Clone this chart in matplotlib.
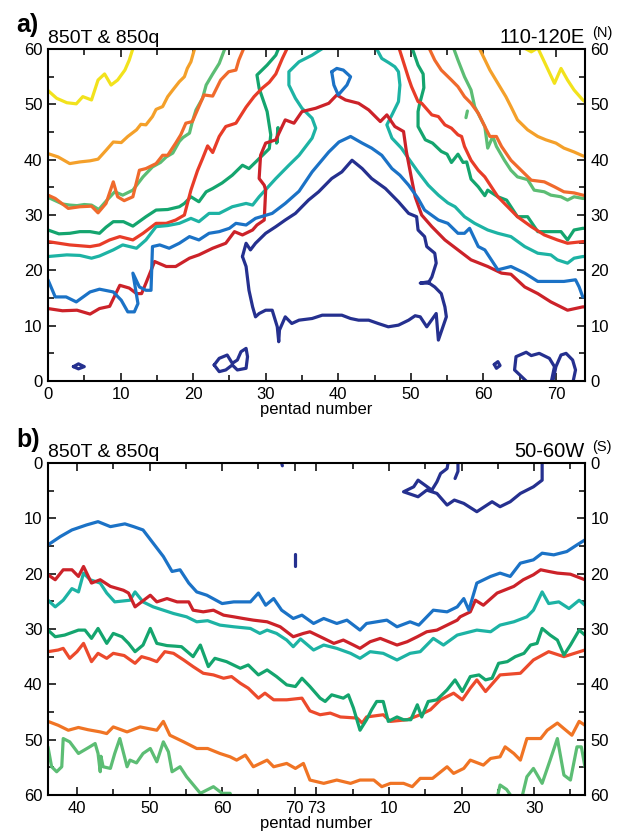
import numpy as np
import matplotlib
matplotlib.use('Agg')
import matplotlib.pyplot as plt
from matplotlib.ticker import MultipleLocator, FixedLocator

plt.rcParams['font.family'] = ['Liberation Sans', 'DejaVu Sans']

# ---- panel a : 110-120E, x = pentad number, y = latitude (N)
a_yellow_l_p = [0, 1.2, 2.6, 3.9, 4.8, 6, 6.9, 7.8, 8.7, 9.6, 10.6, 11.2, 11.8]
a_yellow_l_y = [52.5, 51.1, 50.3, 50.1, 51.4, 50.8, 54.4, 55.5, 53.5, 54.4, 56.2, 58, 60.5]
a_yellow_r_p = [65.2, 66.6, 67.5, 68.4, 69.8, 70.7, 71.6, 72.5, 73.7, 74]
a_yellow_r_y = [60.5, 59.5, 60.2, 57.7, 53.8, 56.5, 54.4, 52.6, 50.8, 50.5]

a_orange_l_p = [0, 1.4, 3, 4.4, 5.8, 6.9, 8, 9, 10.1, 11, 12.2, 12.8, 13.5, 14.4, 14.9, 15.8,
                16.5, 17.2, 18.1, 18.8, 19.2, 19.7, 20.3]
a_orange_l_y = [41.1, 40.5, 39.3, 39.6, 39.8, 40.1, 41.7, 43.2, 43.1, 44.2, 45.4, 46.4, 46.3, 47.8,
                49.1, 49.6, 51.4, 52.6, 54.1, 55, 56.5, 57.7, 60.5]
a_orange_r_p = [59.3, 59.9, 60.9, 62, 63.1, 63.8, 64.7, 66.1, 67.5, 68.6, 70, 71.1, 72.5, 73.7, 74]
a_orange_r_y = [60.5, 58.9, 56.2, 53.8, 51.4, 49.6, 47.2, 45.4, 44.2, 43.6, 43, 42.1, 41.4, 40.7, 40.6]

a_orred_l_p = [0, 1, 2, 2.8, 4.4, 6, 6.9, 8, 9, 9.6, 10.5, 11.7, 12.6, 13.5, 14.9, 15.8, 16.5,
               17.6, 18.3, 19, 19.9, 20.8, 21.5, 22.7, 23.8, 24.9, 25.9, 26.3, 27.1]
a_orred_l_y = [33.6, 33, 32, 31.2, 31.5, 31.6, 30.4, 32.1, 36, 33.3, 32.6, 33.3, 38.1, 38.4, 39.3,
               40.8, 40.8, 43, 44.5, 46.6, 46.9, 49.6, 51.7, 51.5, 54.4, 55.9, 56.2, 58, 60.5]
a_orred_r_p = [52.4, 53.3, 54.2, 55.6, 56.5, 57.4, 58.3, 59.3, 60.2, 60.9, 61.8, 62.5, 63.8, 65.2,
               66.6, 68.4, 69.8, 71.1, 72.5, 73.7, 74]
a_orred_r_y = [60.5, 58, 56.2, 54.4, 53.2, 51.4, 50.2, 48.4, 46, 44.2, 44.2, 42.4, 39.9, 38.1,
               36.3, 36, 35.1, 34.2, 34, 33.6, 33.5]

a_lgreen_l_p = [0, 1, 2, 3, 4, 5, 6, 7, 8, 9.2, 10.3, 11.7, 13.1, 14.4, 15.5, 16.3, 17.2, 18.1,
                18.6, 19.5, 19.9, 20.4, 21.3, 21.8, 22.7, 23.6, 24.5]
a_lgreen_l_y = [33.2, 32.6, 32, 31.8, 31.7, 31.9, 31.8, 31, 32.5, 34.2, 33.6, 34.5, 36.9, 38.7,
                39.5, 40.5, 41.2, 43.3, 44, 44.8, 46.9, 49, 51.1, 53.5, 55.5, 57.4, 60.5]
a_lgreen_r_p = [55.8, 56.5, 57.4, 58.3, 58.8, 59.5, 60.2, 60.6, 61.3, 61.8, 62.9, 63.8, 64.7, 66.1,
                67, 68.4, 69.3, 70.7, 71.6, 72.5, 73.7, 74]
a_lgreen_r_y = [60.5, 58, 55, 52.6, 49.6, 47.8, 46, 42.1, 44.2, 42.4, 39.9, 38.1, 36.9, 36.4,
                34.5, 34.2, 33.6, 33.3, 32.7, 33.3, 33, 33]
a_lgreen_bit_p = [57.6, 57.8]
a_lgreen_bit_y = [47.6, 48.8]

a_dgreen_l_p = [0, 1.5, 3, 4.4, 5.8, 7.1, 8, 9, 10.4, 11.7, 13.5, 14.9, 16.5, 18.1, 18.8, 19.7,
                20.8, 21.8, 22.7, 24, 25.4, 26.8, 27.7, 29.1, 30.5, 30.7, 30.2, 29.1, 28.8, 30.2,
                31.4, 31.9]
a_dgreen_l_y = [27.3, 26.6, 26.7, 27, 27, 26.7, 27.8, 28.8, 28.8, 28, 29.7, 30.9, 31, 31.5, 32.1,
                33.3, 32.4, 34.2, 34.8, 35.8, 37.2, 39, 38.4, 40.2, 42, 44.5, 48.7, 52.9, 55.3,
                57.1, 58.9, 60.5]
a_dgreen_r_p = [50.1, 51, 51.7, 51.8, 51.2, 51, 51, 52, 53, 54.2, 55, 55.6, 56.5, 57.2, 57.7, 58.3,
                59.3, 60.2, 60.6, 62, 63.2, 64.7, 66.1, 67.5, 69, 70.7, 71.6, 72.5, 73.7, 74]
a_dgreen_r_y = [60.5, 57.1, 55.5, 53, 50, 48.7, 46, 43.6, 43, 41.5, 41, 39.5, 41, 39.5, 39.6,
                36.5, 35.1, 33.5, 34.5, 33.3, 32.7, 29.7, 29.7, 27, 27, 27, 25.5, 27.3, 27.6, 27.6]
a_dgreen_bit_p = [31.5, 31.7, 31.6]
a_dgreen_bit_y = [43, 45.8, 43.2]

a_red_l_p = [0, 2, 3, 5.8, 7.1, 8.5, 9.9, 11.7, 13.1, 14.9, 16.3, 17.6, 18.8, 19.7, 20.6, 21.3,
             22, 22.7, 23.6, 24.5, 25.9, 27.3, 28.4, 29.5, 30.5, 31.4, 32.3, 33.1]
a_red_l_y = [25.2, 24.8, 24.6, 24.3, 24.6, 25.5, 26.1, 25.5, 26.7, 28.5, 28.5, 29.1, 30, 34.5,
             38, 40.2, 42.5, 41.3, 44.2, 46, 46.6, 49.5, 51.4, 52.9, 54, 55.5, 58.3, 60.5]
a_red_r_p = [48.3, 49.7, 50.1, 51, 51.5, 52.9, 53.8, 54.7, 55.6, 56.5, 57, 57.4, 58.3, 59.3, 60.2,
             61.1, 62, 62.9, 64.7, 66.6, 68.4, 70.2, 71.6, 73.7, 74]
a_red_r_y = [60.5, 54.7, 53.2, 50.5, 50.2, 48.1, 47.8, 46.3, 45.7, 44.5, 44.2, 42.4, 39.9, 38.1,
             36.9, 35.1, 33.3, 32.1, 29.7, 27.9, 26.4, 25.5, 24.9, 25.2, 25.2]

a_teal_l_p = [0, 2.6, 4.4, 6, 7.1, 9, 10.3, 12.2, 13.5, 14.9, 16.5, 18.1, 19.7, 20.8, 22.2, 23.6,
              25.4, 27.3, 28.2, 29.1, 31.4, 33.2, 34.6, 36.4, 36.9, 36.4, 35, 34.1, 33.2, 33.2,
              34.6, 36.4, 38.3]
a_teal_l_y = [22.5, 22.8, 22.7, 22.2, 22.6, 23.7, 24.6, 24, 25.5, 27.9, 28.1, 28.5, 29.4, 28.8,
              30.3, 30.3, 31.5, 32.1, 31.8, 33.3, 36.6, 39, 40.8, 43.9, 45.7, 47.5, 49.3, 51.1,
              53.5, 55.9, 57.7, 58.9, 60.5]
a_teal_r_p = [45.1, 46, 47, 47.8, 48.3, 48.5, 48.3, 47.4, 46.7, 47.4, 48.7, 49.7, 51, 52.4, 53.8,
              55.1, 56.1, 57.4, 58.8, 60.6, 62, 63.8, 65.7, 67.5, 69.3, 70.2, 71.6, 72.5, 73.7, 74]
a_teal_r_y = [60.5, 58.3, 57.5, 56.8, 55.9, 53.5, 50.5, 48.1, 46.3, 43.9, 42.1, 40.2, 37.8, 35.4,
              33.6, 32.2, 31.5, 29.7, 28.5, 27.3, 26.7, 26.1, 24.3, 23.1, 22.8, 21.9, 21.3, 22.2,
              22.5, 22.5]

a_crimson_p = [0, 2, 4, 5.8, 7.1, 8.5, 9.9, 11.2, 12.2, 12.9, 13.5, 14.7, 16.3, 17.6, 19.5, 20.8,
               22.7, 24.5, 25.7, 26.8, 28.2, 28.8, 29.8, 30, 29.8, 29.1, 29.3, 30, 31.4, 32.7,
               33.9, 35, 36.9, 38.7, 39.8, 41, 42.8, 44.2, 45.8, 46.7, 47.8, 49, 49.4, 50.1,
               50.6, 51.5, 52.9, 54.7, 56.5, 58.3, 60.6, 62.5, 63.8, 65.7, 67.5, 69.3, 71.6,
               73.7, 74]
a_crimson_y = [13.1, 12.7, 12.8, 12.1, 13.1, 13.5, 17.3, 16.8, 15.8, 15.8, 17.7, 21.6, 20.7, 20.7,
               22.2, 22.8, 24, 24.9, 27, 26.4, 27.3, 28.2, 29.1, 34.5, 35.4, 36.6, 40.8, 43, 43.6,
               47.2, 46.6, 48.7, 49.3, 50.2, 51.7, 50.8, 50.2, 49, 46.9, 48.1, 46, 45.1, 41.4,
               36.6, 33.3, 30, 27.9, 25.5, 23.7, 21.9, 20.7, 19.5, 19.3, 17, 15.8, 14.3, 12.8,
               13.4, 13.4]

a_blue_p = [0, 1, 2.5, 3.9, 5.8, 7.1, 9, 10.1, 11, 11.9, 12.4, 11.7, 12.6, 13.5, 14.2, 14.4, 15.4,
            16.7, 18.1, 19.5, 20.8, 22.2, 23.6, 25, 25.9, 27.3, 28.6, 30.9, 32.7, 34.6, 36.4,
            38.7, 40.1, 41.7, 43.3, 44.6, 46, 47.4, 48.5, 49.7, 51, 51.9, 53.8, 55.1, 56.5, 57.4,
            58.1, 59.3, 60.2, 62, 63.8, 65.7, 67.5, 69.3, 71.1, 72.7, 73.2, 73.7, 74]
a_blue_y = [18.3, 15.2, 15.2, 14.3, 16.1, 16.6, 16.1, 14.6, 12.5, 12.5, 14, 19.5, 17, 16.4, 16.4,
            24.3, 24.6, 24, 24.9, 26.1, 25.5, 26.7, 27, 27.6, 28.5, 28.2, 29.4, 30.3, 32.1, 34.3,
            37.8, 41.4, 43.2, 44.2, 43, 42.1, 40.8, 38.4, 37.2, 35.4, 33, 30.9, 29.1, 28.5, 26.7,
            26.7, 27.6, 24.3, 23.7, 20.1, 20.7, 19.5, 18, 18, 18, 18.3, 17, 15.2, 15.2]
a_blue_loop_p = [39.1, 39.8, 40.7, 41.7, 41.2, 40, 39.4, 39.1]
a_blue_loop_y = [55.9, 56.5, 56.2, 55, 53.5, 51.7, 53.5, 55.9]

a_navy_p = [26.8, 27.3, 27.9, 28.6, 30, 31.4, 32.7, 34.1, 35.9, 37.3, 39.1, 40.5, 41.9, 43.3, 44.6,
            46.5, 48.3, 49.7, 50.8, 51, 51.9, 52.2, 53.3, 53.5, 52.9, 52.4, 51.3, 52.3, 53.3, 54.2,
            54.7, 54.9, 53.8, 53.5, 52.2, 51.3, 50.6, 49.7, 48.3, 46.9, 45.5, 44.2, 42.8, 41.7,
            40.5, 39.1, 37.8, 36.4, 34.6, 33.6, 32.7, 31.9, 31.8, 31.6, 30.9, 30, 29.1, 28.6,
            28.2, 27.7, 27.3, 26.8]
a_navy_y = [22.5, 24.9, 23.7, 24.9, 26.7, 27.9, 29.1, 30.3, 32.7, 34.2, 36.6, 37.8, 39.9, 38.4,
            36.6, 34.8, 32.4, 30.3, 29.7, 27.3, 26.1, 24.3, 23.1, 21.3, 18.8, 17.7, 17.7, 17.9, 17,
            15.8, 13.4, 11.6, 7.4, 12.2, 9.8, 11.6, 11.8, 11, 10.1, 9.8, 10.4, 11, 11, 11.3, 11.9,
            11.9, 11.9, 11.3, 11, 10.4, 11.6, 9.2, 7.1, 9.8, 12.8, 12.8, 12.2, 11.6, 13.4, 16.4,
            20.7, 22.5]
a_navy_s1_p = [3.5, 4.2, 5, 4.2, 3.5]
a_navy_s1_y = [2.6, 3.1, 2.6, 2.2, 2.6]
a_navy_s2_p = [22.9, 23.6, 24.7, 25.4, 26.1, 26.6, 27.3, 27.5, 27.3, 26.1, 25.4, 24.5, 23.6, 22.9]
a_navy_s2_y = [2.9, 4.1, 4.7, 3.2, 3.8, 5.3, 5.9, 4.4, 2.3, 2, 2.9, 2, 1.7, 2.9]
a_navy_s3_p = [61.5, 62, 62.3, 61.8, 61.5]
a_navy_s3_y = [3, 3.5, 2.8, 2.3, 3]
a_navy_s4_p = [66.3, 64.3, 64.5, 65.9, 66.6, 67.7, 69.1, 69.8, 69.3]
a_navy_s4_y = [-0.5, 2, 4.4, 5.2, 4.6, 5, 4.1, 2.6, -0.5]
a_navy_s5_p = [69.5, 70, 70.7, 71.4, 72.3, 72.7, 72.3]
a_navy_s5_y = [-0.5, 2.6, 4.7, 5, 3.8, 2, -0.5]

# ---- panel b : 50-60W, x = pentad 36..73 then 1..37 (positions > 73 are pentad - 73 of next year)
b_ticks = [40, 50, 60, 70, 73, 83, 93, 103]
b_ticklabels = ['40', '50', '60', '70', '73', '10', '20', '30']
b_minor = [45, 55, 65, 78, 88, 98, 108]

b_blue_x = [36, 37.7, 39.3, 41.3, 42.9, 44.6, 46.6, 47.8, 49.1, 50.5, 51.9, 53.1, 54.2, 55.4,
            56.5, 57.9, 60, 61.6, 63.9, 65, 66, 67.1, 68.2, 69.8, 71, 72.6, 74, 75.8, 77.2, 79,
            79.9, 82.7, 84.1, 85.9, 87.1, 89.1, 91, 92.4, 93.3, 94, 95.1, 97, 98.3, 99.7, 101.1,
            102.9, 104.1, 105.7, 107.5, 108.9, 110]
b_blue_y = [14.8, 13.3, 12.1, 11.2, 10.6, 11.5, 11, 11.5, 12.1, 14.5, 16.9, 19.6, 19.3, 21.7,
            23.3, 23.9, 25.4, 25.1, 25.1, 23.5, 25.7, 24.5, 26.6, 28.1, 27.5, 29, 28.1, 29, 28.4,
            30.2, 29, 28.4, 29.6, 28.7, 29.3, 26.6, 26.9, 26, 24.5, 26.6, 21.7, 20.5, 19.9, 20.5,
            18.1, 17.5, 16.3, 16.6, 16, 14.8, 13.9]

b_red_x = [36, 37, 38.1, 39.3, 40.2, 40.9, 42, 43.2, 44.6, 46.4, 47.1, 48, 50.1, 51, 52.4, 53.8,
           55.4, 56, 57.4, 58.8, 60.2, 61.6, 62.9, 64.3, 66.2, 68, 69.8, 71.2, 72.1, 74, 75.4,
           76.7, 78.1, 79, 80.4, 81.8, 84.1, 85.5, 86.9, 88.2, 89.6, 91, 92.4, 92.8, 94.2, 94.9,
           96, 97.9, 100.2, 101.5, 102.9, 103.9, 105, 106.2, 108, 110]
b_red_y = [20.2, 21.1, 19.3, 19.3, 20.5, 18.7, 21.7, 21.1, 22.3, 23, 23.5, 26, 23.9, 25.1, 24.5,
           25.1, 25.1, 26.6, 26.9, 26.6, 27.5, 27.8, 28.1, 28.4, 28.7, 29.6, 31.4, 30.8, 30.5,
           31.7, 32.6, 32, 32.9, 33.5, 32.3, 31.7, 32.9, 32.3, 31.4, 30.5, 30.2, 29.3, 28.4, 27.8,
           26.9, 24.8, 25.7, 23.5, 22.3, 21.1, 20.2, 19.3, 19.6, 19.9, 20.1, 21.1]

b_teal_x = [36, 37, 38.1, 39.3, 40.2, 40.9, 41.8, 43.2, 44.1, 45.2, 47.3, 48, 49.1, 50.5, 51.9,
            53.3, 55.1, 56.5, 58, 59.7, 61.6, 63.9, 65.2, 66.2, 67.5, 68.9, 69.8, 70.8, 72.6,
            74, 75.8, 77.7, 79, 80.4, 82.2, 84.1, 85.9, 87.3, 89.1, 90.5, 92.4, 95.1, 97, 98.3,
            100.2, 102, 102.9, 104.1, 105, 106.4, 107.8, 109.2, 110]
b_teal_y = [24.8, 26, 24.8, 22.7, 23.3, 19.9, 21.1, 21.7, 23.5, 25.1, 24.8, 23.3, 25.1, 26, 26.6,
            27.2, 27.8, 28.7, 28.5, 29.3, 29.6, 29.9, 30.8, 30.2, 30.8, 32, 33.2, 31.8, 33.8,
            32.9, 33.5, 34.4, 35.3, 34.1, 34.4, 35.6, 34.4, 34.1, 31.7, 32.9, 31.1, 30.2, 30.5,
            29.3, 28.7, 27.8, 26.6, 23.3, 25.4, 25.1, 26.3, 24.8, 25.7]

b_dgreen_x = [36, 37, 38.3, 40.2, 41.1, 42, 42.9, 44.1, 45, 46.2, 47.1, 48, 49.1, 50.1, 51, 52.4,
              53.5, 54.4, 56, 57, 58.1, 59, 60.6, 62.5, 63.6, 65, 66.2, 67.5, 68.9, 70.1, 71,
              72.1, 73.5, 74.2, 75.1, 76.7, 77.4, 78.1, 79, 79.9, 80.6, 81.3, 82.2, 82.9, 84.1,
              85, 86, 86.9, 87.5, 88.4, 89.6, 91, 92.1, 93.1, 94.2, 95.4, 96.3, 97.2, 98.1, 99.3,
              100.4, 101.6, 102.5, 103.4, 104.1, 105.2, 106.2, 107.1, 108, 109.2, 110]
b_dgreen_y = [30.2, 31.4, 31.1, 30.2, 30.2, 31.7, 29.9, 32.6, 30.8, 31.4, 32.6, 34.1, 32.9, 29.9,
              32.6, 33, 33.1, 33.2, 35, 32.9, 36.8, 35.3, 35.9, 37.1, 36.5, 38.3, 37.4, 38.6,
              40.1, 40.4, 38.9, 40.4, 42.5, 43.1, 41.9, 42.5, 41.9, 44.3, 48.3, 46.4, 44.6, 43.1,
              43.1, 46.7, 45.9, 46.4, 46.4, 43.7, 45.9, 43.1, 42.8, 41, 39.2, 41.3, 38.6, 38.3,
              39.2, 38.9, 36.2, 35.9, 35, 34.4, 32.9, 32.6, 29.9, 31.1, 32, 34.7, 32.9, 30.2, 31.1]

b_orred_x = [36, 37.4, 38.1, 39, 40, 40.9, 42, 42.9, 44.1, 45, 46.5, 48, 48.9, 50, 51, 52.1,
             53.3, 54.7, 56, 57.4, 58.8, 60.2, 61.3, 62.5, 63.6, 65, 65.9, 67.1, 68.9, 71, 72.1,
             73.5, 74.9, 76.3, 78.6, 79.3, 79.9, 82.2, 83.2, 85.5, 87.3, 88.7, 90.1, 91.9, 93.1,
             94.2, 95.1, 96.3, 98.3, 101.1, 102.9, 105, 107.1, 110]
b_orred_y = [34.1, 33.8, 33.5, 35.3, 34.1, 32.6, 35.9, 34.4, 35.3, 34.4, 34.8, 36.2, 35, 35.4,
             35.9, 34.1, 34.4, 35.6, 36.8, 38, 38.3, 38.9, 38.6, 39.8, 40.7, 42.5, 41.6, 42.8,
             42.8, 42.5, 44.8, 45.5, 45.2, 45.9, 46.1, 47, 45.9, 45.5, 46.7, 46.4, 45.5, 44.6,
             42.8, 41.6, 42.8, 40.7, 39.2, 41.3, 38.3, 38, 35.6, 34.1, 35, 33.8]

b_orange_x = [36, 37.4, 38.8, 40.2, 41.5, 43.2, 44.1, 45, 46.9, 48.7, 51, 51.9, 52.8, 54.7, 55.6,
              56.5, 58, 59.7, 61.1, 62, 63.2, 64.3, 66.2, 67.1, 68.9, 70.1, 71.2, 72.1, 74, 75.8,
              77.7, 79, 80.9, 82, 83.2, 85, 86.2, 87.3, 89, 91, 91.9, 93.3, 94.2, 96, 97, 98.3,
              99, 100.2, 101.1, 102, 103.9, 104.8, 106.2, 107.1, 108.2, 109.2, 110]
b_orange_y = [46.7, 47.4, 48.3, 47.8, 48.2, 48.6, 48.9, 47.7, 48.6, 47.7, 48.3, 46.7, 49.2, 50.4,
              51, 51.6, 51.6, 52.5, 53.1, 53.7, 52.8, 54.9, 53.7, 54.9, 54.3, 55.2, 54.3, 57.3,
              57.9, 57.3, 57.9, 57.3, 57.3, 58.5, 57.9, 57.9, 58.5, 57, 57, 54.9, 56.1, 55.2,
              53.7, 54.6, 53.4, 53.1, 51.3, 52.5, 53.7, 49.8, 49.8, 48.3, 47, 48, 49.2, 46.7, 47.4]

b_lgreen_l_x = [36, 36.5, 37.2, 37.9, 38.1, 39, 40.2, 41.5, 42.5, 42.9, 43.2, 43.3, 43.6, 44.6,
                45.2, 45.9, 46.9, 47.3, 48.2, 49.1, 50.1, 51, 51.9, 52.6, 53.1, 54.2, 55.1, 57,
                58.8, 60, 61.1, 61.3]
b_lgreen_l_y = [51.3, 54.9, 55.8, 54.9, 49.8, 50.4, 52.5, 51.5, 50.7, 52.5, 55.8, 53, 54.9, 55.2,
                52.5, 49.8, 54.9, 53.7, 54.2, 52.5, 51.6, 54, 50.4, 52.2, 55.8, 54.9, 56.7, 59.7,
                58.5, 59.7, 59.7, 60.5]
b_lgreen_r_x = [97.9, 98.3, 99.2, 100, 101.3, 102, 102.9, 104.1, 105.2, 106.2, 107.1, 108, 108.9,
                109.5, 110]
b_lgreen_r_y = [60.5, 58.2, 59, 60.5, 60.5, 56.7, 55.2, 57.9, 53.7, 49.8, 56.4, 57.3, 51.3, 51.3,
                54.9]

b_navy_x = [91.2, 91, 90.1, 89.6, 88.9, 87, 86.4, 85, 87, 88.2, 89.6, 91, 92, 93.3, 95.1, 97.2,
            98.3, 99.7, 101.1, 102.9, 104.1, 104.1]
b_navy_y = [-0.5, 1, 1.9, 3.4, 4.9, 3.1, 4.3, 5.2, 6.1, 4.9, 5.5, 7.6, 6.7, 7.3, 8.8, 7, 7.9, 7,
            5.5, 4.3, 3.1, -0.5]
b_navy_hook_x = [92.5, 92.5, 92.1]
b_navy_hook_y = [-0.5, 1.5, 2.8]
b_navy_dash_x = [70.1, 70.1]
b_navy_dash_y = [16.5, 18.6]
b_navy_dot_x = [68.1, 68.3]
b_navy_dot_y = [-0.5, 0.5]

YELLOW = '#f2e21c'
ORANGE = '#f4a02a'
ORRED = '#f06a2c'
LGREEN = '#5cbd74'
DGREEN = '#14a56e'
RED = '#e83c28'
TEAL = '#1db3a4'
CRIMSON = '#cc2229'
BLUE = '#1b72c6'
NAVY = '#25308f'
LW = 2.3

fig = plt.figure(figsize=(6.19, 8.4), dpi=100)
axa = fig.add_axes([0.0775, 0.5464, 0.8675, 0.3952])
axb = fig.add_axes([0.0775, 0.0536, 0.8675, 0.3952])


def line(ax, x, y, c):
    ax.plot(x, y, color=c, lw=LW, solid_joinstyle='round', solid_capstyle='round')


for x, y, c in [
        (a_yellow_l_p, a_yellow_l_y, YELLOW), (a_yellow_r_p, a_yellow_r_y, YELLOW),
        (a_orange_l_p, a_orange_l_y, ORANGE), (a_orange_r_p, a_orange_r_y, ORANGE),
        (a_lgreen_l_p, a_lgreen_l_y, LGREEN), (a_lgreen_r_p, a_lgreen_r_y, LGREEN),
        (a_lgreen_bit_p, a_lgreen_bit_y, LGREEN),
        (a_orred_l_p, a_orred_l_y, ORRED), (a_orred_r_p, a_orred_r_y, ORRED),
        (a_dgreen_l_p, a_dgreen_l_y, DGREEN), (a_dgreen_r_p, a_dgreen_r_y, DGREEN),
        (a_dgreen_bit_p, a_dgreen_bit_y, DGREEN),
        (a_red_l_p, a_red_l_y, RED), (a_red_r_p, a_red_r_y, RED),
        (a_teal_l_p, a_teal_l_y, TEAL), (a_teal_r_p, a_teal_r_y, TEAL),
        (a_crimson_p, a_crimson_y, CRIMSON),
        (a_blue_p, a_blue_y, BLUE), (a_blue_loop_p, a_blue_loop_y, BLUE),
        (a_navy_p, a_navy_y, NAVY), (a_navy_s1_p, a_navy_s1_y, NAVY),
        (a_navy_s2_p, a_navy_s2_y, NAVY), (a_navy_s3_p, a_navy_s3_y, NAVY),
        (a_navy_s4_p, a_navy_s4_y, NAVY), (a_navy_s5_p, a_navy_s5_y, NAVY)]:
    line(axa, x, y, c)

for x, y, c in [
        (b_lgreen_l_x, b_lgreen_l_y, LGREEN), (b_lgreen_r_x, b_lgreen_r_y, LGREEN),
        (b_orange_x, b_orange_y, '#f07424'),
        (b_orred_x, b_orred_y, '#ec4a2c'),
        (b_dgreen_x, b_dgreen_y, DGREEN),
        (b_teal_x, b_teal_y, TEAL),
        (b_red_x, b_red_y, CRIMSON),
        (b_blue_x, b_blue_y, BLUE),
        (b_navy_x, b_navy_y, NAVY), (b_navy_hook_x, b_navy_hook_y, NAVY),
        (b_navy_dash_x, b_navy_dash_y, NAVY), (b_navy_dot_x, b_navy_dot_y, NAVY)]:
    line(axb, x, y, c)

axa.set_xlim(0, 74)
axa.set_ylim(0, 60)
axa.xaxis.set_major_locator(MultipleLocator(10))
axa.xaxis.set_minor_locator(MultipleLocator(5))

axb.set_xlim(36, 110)
axb.set_ylim(60, 0)
axb.xaxis.set_major_locator(FixedLocator(b_ticks))
axb.set_xticklabels(b_ticklabels)
axb.xaxis.set_minor_locator(FixedLocator(b_minor))

for ax in (axa, axb):
    ax.yaxis.set_major_locator(MultipleLocator(10))
    ax.yaxis.set_minor_locator(MultipleLocator(5))
    ax.tick_params(which='both', direction='in', top=True, right=True, labelright=True,
                   labelsize=12, width=1.1, pad=4)
    ax.tick_params(which='major', length=6)
    ax.tick_params(which='minor', length=4)
    for s in ax.spines.values():
        s.set_linewidth(1.5)
    ax.set_xlabel('pentad number', fontsize=12, labelpad=0)
    ax.text(0, 1.018, '850T & 850q', transform=ax.transAxes, fontsize=14,
            ha='left', va='baseline')

axa.text(1, 1.018, '110-120E', transform=axa.transAxes, fontsize=14.5, ha='right', va='baseline')
axa.text(1.013, 1.036, '(N)', transform=axa.transAxes, fontsize=10.5, ha='left', va='baseline')
axb.text(1, 1.018, '50-60W', transform=axb.transAxes, fontsize=14.5, ha='right', va='baseline')
axb.text(1.013, 1.036, '(S)', transform=axb.transAxes, fontsize=10.5, ha='left', va='baseline')

fig.text(16 / 619, 1 - 32 / 840, 'a)', fontsize=18, fontweight='bold', ha='left', va='baseline')
fig.text(16 / 619, 1 - 447 / 840, 'b)', fontsize=18, fontweight='bold', ha='left', va='baseline')

fig.savefig('out.png', dpi=100, facecolor='white')
